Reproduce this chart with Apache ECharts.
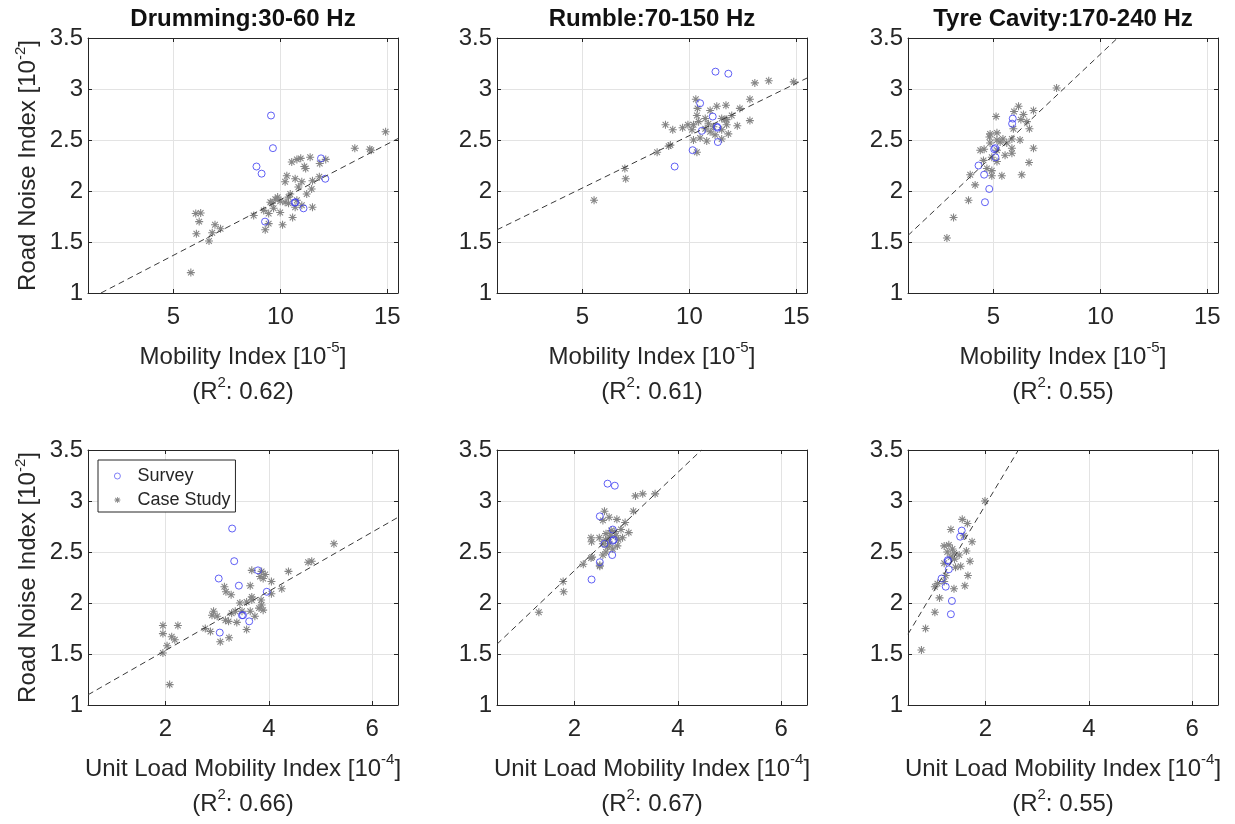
<!DOCTYPE html>
<html>
<head>
<meta charset="utf-8">
<script src="https://cdn.jsdelivr.net/npm/echarts@6/dist/echarts.min.js"></script>
<style>
html,body{margin:0;padding:0;background:#fff;}
#chart{width:1235px;height:824px;}
</style>
</head>
<body>
<div id="chart"></div>
<script>
// ---------------- data ----------------
const bandTitles = ['Drumming:30-60 Hz', 'Rumble:70-150 Hz', 'Tyre Cavity:170-240 Hz'];
const r2Mobility = ['0.62', '0.61', '0.55'];
const r2UnitLoad = ['0.66', '0.67', '0.55'];
const mobilityTicks = [5, 10, 15];
const unitLoadTicks = [2, 4, 6];
const mobilityRange = [1, 15.5];
const unitLoadRange = [0.5, 6.5];
const noiseRange = [1, 3.5];
const noiseStep = 0.5;

// fits: [intercept, slope]
const drumFitMob = [0.825, 0.109];
const drumFitUlm = [0.955, 0.29];
const rumbleFitMob = [1.517, 0.1026];
const rumbleFitUlm = [1.356, 0.481];
const cavityFitMob = [1.3665, 0.1975];
const cavityFitUlm = [1.272, 0.845];

// Drumming
const drumSurveyMob = [[9.56,2.74],[9.65,2.42],[8.88,2.24],[9.12,2.17],[11.9,2.32],[12.1,2.12],[10.66,1.885],[10.7,1.89],[11.08,1.83],[9.28,1.70]];
const drumCaseMob = [[14.92,2.58],[13.48,2.42],[14.18,2.41],[14.25,2.40],
 [10.53,2.285],[10.77,2.31],[10.95,2.32],[11.39,2.33],
 [11.12,2.24],[11.18,2.22],[11.84,2.27],[12.12,2.31],
 [10.3,2.15],[10.22,2.09],[10.69,2.12],[11.0,2.09],[11.82,2.14],[11.5,2.10],
 [10.46,1.97],[10.84,2.04],[11.23,1.97],[11.46,2.02],
 [9.53,1.89],[9.76,1.92],[9.99,1.90],[9.6,1.88],[10.22,1.89],[10.38,1.88],[10.77,1.91],[11.0,1.86],
 [9.99,1.79],[10.57,1.74],[11.5,1.84],[9.45,1.78],[8.75,1.76],[9.22,1.81],[9.29,1.62],[10.1,1.67],[9.45,1.68],
 [6.04,1.78],[6.27,1.785],[6.2,1.70],[6.07,1.58],[6.94,1.67],[7.2,1.63],[6.81,1.59],[6.66,1.51],[5.81,1.20],
 [9.68,1.83],[10.38,1.94],[10.69,1.84],[9.87,1.94]];
const drumSurveyUlm = [[3.29,2.73],[3.33,2.41],[3.03,2.24],[3.42,2.17],[3.79,2.32],[3.96,2.11],[3.48,1.88],[3.50,1.88],[3.62,1.82],[3.05,1.71]];
const drumCaseUlm = [[5.26,2.58],[4.76,2.40],[4.83,2.41],[4.38,2.31],[4.25,2.14],[4.05,2.21],
 [3.67,2.32],[3.86,2.31],[3.93,2.28],[3.83,2.26],[3.89,2.24],[3.64,2.17],
 [3.14,2.16],[3.17,2.11],[3.27,2.08],[4.05,2.09],[3.67,2.06],
 [3.44,2.0],[3.57,2.01],[3.67,2.03],[3.85,2.03],[3.86,1.98],[3.81,1.95],[3.89,1.93],
 [3.35,1.92],[3.48,1.92],[3.28,1.90],[2.93,1.92],[2.90,1.88],[3.0,1.87],
 [3.16,1.83],[3.22,1.82],[3.38,1.81],[3.73,1.87],[3.64,1.92],[3.57,1.74],
 [3.06,1.62],[3.23,1.66],[2.77,1.75],[2.87,1.72],
 [1.95,1.78],[1.95,1.70],[2.24,1.78],[2.12,1.67],[2.03,1.58],[2.18,1.64],[1.95,1.51],[2.08,1.20]];

// Rumble
const rumbleSurveyMob = [[11.22,3.17],[11.82,3.15],[10.5,2.86],[11.09,2.73],[11.29,2.63],[11.31,2.62],[10.58,2.59],[11.33,2.48],[10.15,2.40],[9.31,2.24]];
const rumbleCaseMob = [[5.54,1.91],[6.98,2.22],[7.02,2.12],[8.49,2.38],[9.03,2.44],[9.11,2.45],[8.88,2.65],[9.22,2.60],[9.68,2.62],[9.93,2.65],
 [10.3,2.90],[10.38,2.81],[10.35,2.74],[10.74,2.71],[10.97,2.79],[11.28,2.83],[11.71,2.84],[12.36,2.81],[12.83,2.90],
 [13.06,3.06],[13.71,3.08],[14.88,3.07],[12.83,2.69],[12.24,2.64],[11.98,2.74],[11.74,2.70],[11.51,2.71],
 [10.89,2.66],[11.12,2.63],[11.51,2.60],[11.74,2.65],[11.82,2.56],
 [10.43,2.68],[10.19,2.65],[10.12,2.60],[10.74,2.61],[10.97,2.58],[11.2,2.55],
 [10.19,2.50],[10.5,2.52],[10.81,2.49],[10.35,2.38],[11.51,2.51],[11.67,2.70]];
const rumbleSurveyUlm = [[2.64,3.17],[2.78,3.15],[2.49,2.85],[2.74,2.72],[2.74,2.61],[2.76,2.62],[2.58,2.58],[2.73,2.47],[2.49,2.40],[2.33,2.23]];
const rumbleCaseUlm = [[1.31,1.91],[1.78,2.21],[1.79,2.11],[2.17,2.38],[2.32,2.44],[2.49,2.37],[2.32,2.64],[2.33,2.60],
 [2.58,2.90],[2.55,2.81],[2.67,2.84],[2.82,2.82],[2.98,2.79],[3.14,2.90],[3.18,3.05],[3.32,3.07],[3.56,3.07],
 [3.05,2.69],[2.93,2.64],[2.48,2.64],[2.61,2.68],[2.71,2.71],[2.80,2.66],
 [2.55,2.58],[2.64,2.55],[2.74,2.53],[2.83,2.56],[2.61,2.50],[2.55,2.47],[2.34,2.45],[2.49,2.36],
 [2.65,2.62],[2.70,2.66],[2.85,2.62],[2.60,2.62],[2.78,2.70],[2.68,2.58],[2.90,2.72]];

// Tyre cavity
const cavitySurveyMob = [[5.9,2.71],[5.87,2.66],[5.08,2.42],[5.03,2.41],[5.09,2.33],[4.3,2.25],[4.56,2.16],[4.8,2.02],[4.6,1.89]];
const cavityCaseMob = [[2.82,1.54],[3.13,1.74],[3.83,1.91],[4.14,2.06],[3.91,2.16],[5.39,2.15],[6.32,2.16],[6.66,2.28],[6.87,2.42],
 [5.54,2.35],[5.86,2.37],[7.95,3.01],[6.17,2.83],[5.96,2.78],[6.4,2.75],[6.87,2.79],[5.12,2.73],
 [6.56,2.68],[6.68,2.61],[6.28,2.70],[4.84,2.56],[5.16,2.57],[4.81,2.53],[4.38,2.40],[4.56,2.41],
 [5.16,2.50],[5.31,2.48],[5.44,2.51],[5.62,2.47],[5.86,2.51],[6.24,2.50],[5.93,2.61],
 [4.92,2.33],[5.16,2.29],[4.69,2.22],[4.92,2.20],[4.92,2.15],[4.53,2.30],[5.86,2.42],[4.84,2.47],[5.16,2.40]];
const cavitySurveyUlm = [[1.54,2.71],[1.51,2.65],[1.27,2.42],[1.28,2.41],[1.29,2.33],[1.15,2.24],[1.23,2.16],[1.35,2.02],[1.33,1.89]];
const cavityCaseUlm = [[0.76,1.54],[0.84,1.75],[1.02,1.91],[1.11,2.05],[1.02,2.16],[1.39,2.14],[1.6,2.17],[1.66,2.27],[1.70,2.41],[1.74,2.60],
 [1.99,3.0],[1.55,2.82],[1.65,2.78],[1.33,2.72],[1.58,2.66],[1.2,2.56],[1.29,2.57],[1.36,2.53],[1.26,2.50],[1.39,2.49],[1.49,2.47],
 [1.63,2.51],[1.2,2.39],[1.42,2.35],[1.52,2.36],[1.23,2.27],[1.07,2.19],[1.2,2.21],[1.33,2.45],[1.4,2.43]];

// ---------------- layout ----------------
const FONT = '"Liberation Sans", Arial, Helvetica, sans-serif';
const INK = '#262626';
const GRIDLINE = '#e3e3e3';
const gridLefts = [88, 497, 908];
const gridTops = [38, 450];
const GW = 310, GH = 255;

const ASTERISK = 'path://M1 8.8H19V11.2H1Z M8.8 1H11.2V19H8.8Z M4.45 2.75L17.25 15.55L15.55 17.25L2.75 4.45Z M15.55 2.75L17.25 4.45L4.45 17.25L2.75 15.55Z';

const panels = [
  {row:0,col:0,survey:drumSurveyMob,cases:drumCaseMob,fit:drumFitMob},
  {row:0,col:1,survey:rumbleSurveyMob,cases:rumbleCaseMob,fit:rumbleFitMob},
  {row:0,col:2,survey:cavitySurveyMob,cases:cavityCaseMob,fit:cavityFitMob},
  {row:1,col:0,survey:drumSurveyUlm,cases:drumCaseUlm,fit:drumFitUlm},
  {row:1,col:1,survey:rumbleSurveyUlm,cases:rumbleCaseUlm,fit:rumbleFitUlm},
  {row:1,col:2,survey:cavitySurveyUlm,cases:cavityCaseUlm,fit:cavityFitUlm}
];

function fitSegment(fit, xr, yr) {
  const a = fit[0], b = fit[1];
  let x0 = xr[0], x1 = xr[1];
  if (b > 0) {
    x0 = Math.max(x0, (yr[0] - a) / b);
    x1 = Math.min(x1, (yr[1] - a) / b);
  }
  return [[x0, a + b * x0], [x1, a + b * x1]];
}

const richSup = {
  s: {fontSize: 15, fontFamily: FONT, color: INK, verticalAlign: 'top', lineHeight: 17}
};

const grids = [], xAxes = [], yAxes = [], series = [], graphics = [];

panels.forEach((p, i) => {
  const top = p.row === 0;
  const xr = top ? mobilityRange : unitLoadRange;
  const ticks = top ? mobilityTicks : unitLoadTicks;
  const r2 = top ? r2Mobility[p.col] : r2UnitLoad[p.col];
  const xlabel = top ? 'Mobility Index [10{s|-5}]' : 'Unit Load Mobility Index [10{s|-4}]';
  grids.push({left: gridLefts[p.col], top: gridTops[p.row], width: GW, height: GH, containLabel: false});

  xAxes.push({
    gridIndex: i, type: 'value', position: 'bottom', min: xr[0], max: xr[1],
    axisLine: {show: true, onZero: false, lineStyle: {color: INK, width: 1}},
    axisTick: {show: true, inside: true, length: 4, customValues: ticks, lineStyle: {color: INK}},
    axisLabel: {show: true, customValues: ticks, margin: 12, fontSize: 24, fontFamily: FONT, color: INK},
    splitLine: {show: true, lineStyle: {color: GRIDLINE, width: 1}},
    name: xlabel + '\n(R{s|2}: ' + r2 + ')',
    nameLocation: 'middle', nameGap: 47,
    nameTextStyle: {fontSize: 24, fontFamily: FONT, color: INK, lineHeight: 35, align: 'center', rich: richSup}
  });
  xAxes.push({
    gridIndex: i, type: 'value', position: 'top', min: xr[0], max: xr[1],
    axisLine: {show: true, onZero: false, lineStyle: {color: INK, width: 1}},
    axisTick: {show: true, inside: true, length: 4, customValues: ticks, lineStyle: {color: INK}},
    axisLabel: {show: false}, splitLine: {show: false}
  });
  const yl = {
    gridIndex: i, type: 'value', position: 'left', min: noiseRange[0], max: noiseRange[1], interval: noiseStep,
    axisLine: {show: true, onZero: false, lineStyle: {color: INK, width: 1}},
    axisTick: {show: true, inside: true, length: 4, lineStyle: {color: INK}},
    axisLabel: {show: true, margin: 5, fontSize: 24, fontFamily: FONT, color: INK},
    splitLine: {show: true, lineStyle: {color: GRIDLINE, width: 1}}
  };
  if (p.col === 0) {
    yl.name = 'Road Noise Index [10{s|-2}]';
    yl.nameLocation = 'middle';
    yl.nameGap = 45;
    yl.nameTextStyle = {fontSize: 24, fontFamily: FONT, color: INK, lineHeight: 30, rich: richSup};
  }
  yAxes.push(yl);
  yAxes.push({
    gridIndex: i, type: 'value', position: 'right', min: noiseRange[0], max: noiseRange[1], interval: noiseStep,
    axisLine: {show: true, onZero: false, lineStyle: {color: INK, width: 1}},
    axisTick: {show: true, inside: true, length: 4, lineStyle: {color: INK}},
    axisLabel: {show: false}, splitLine: {show: false}
  });

  series.push({
    name: 'Case Study', type: 'scatter', xAxisIndex: 2 * i, yAxisIndex: 2 * i,
    data: p.cases, symbol: ASTERISK, symbolSize: 8, z: 2,
    itemStyle: {color: '#858585', opacity: 1}
  });
  series.push({
    name: 'Survey', type: 'scatter', xAxisIndex: 2 * i, yAxisIndex: 2 * i,
    data: p.survey, symbol: 'circle', symbolSize: 7, z: 3,
    itemStyle: {color: 'rgba(0,0,0,0)', borderColor: '#3a3af2', borderWidth: 1}
  });
  series.push({
    name: 'fit' + i, type: 'line', xAxisIndex: 2 * i, yAxisIndex: 2 * i,
    data: fitSegment(p.fit, xr, noiseRange), showSymbol: false, symbol: 'none', z: 4,
    lineStyle: {color: '#3a3a3a', width: 1, type: [6, 4]}, silent: true
  });

  if (top) {
    graphics.push({
      type: 'text', x: gridLefts[p.col] + GW / 2, y: 19,
      style: {text: bandTitles[p.col], fontSize: 24, fontWeight: 'bold', fontFamily: FONT, fill: '#111',
              align: 'center', verticalAlign: 'middle'}
    });
  }
});

const chart = echarts.init(document.getElementById('chart'), null, {renderer: 'canvas'});
chart.setOption({
  animation: false,
  backgroundColor: '#fff',
  grid: grids,
  xAxis: xAxes,
  yAxis: yAxes,
  series: series,
  graphic: graphics,
  legend: {
    data: [
      {name: 'Survey', itemStyle: {borderWidth: 0.8, borderColor: '#3a3af2', color: 'rgba(0,0,0,0)'}},
      {name: 'Case Study'}
    ],
    orient: 'vertical', left: 98, top: 460,
    itemWidth: 30, itemHeight: 6, itemGap: 4,
    padding: [6, 5, 2, 16],
    borderColor: INK, borderWidth: 1, backgroundColor: '#fff',
    textStyle: {fontSize: 18, fontFamily: FONT, color: INK, lineHeight: 20},
    selectedMode: false
  }
});
</script>
</body>
</html>
